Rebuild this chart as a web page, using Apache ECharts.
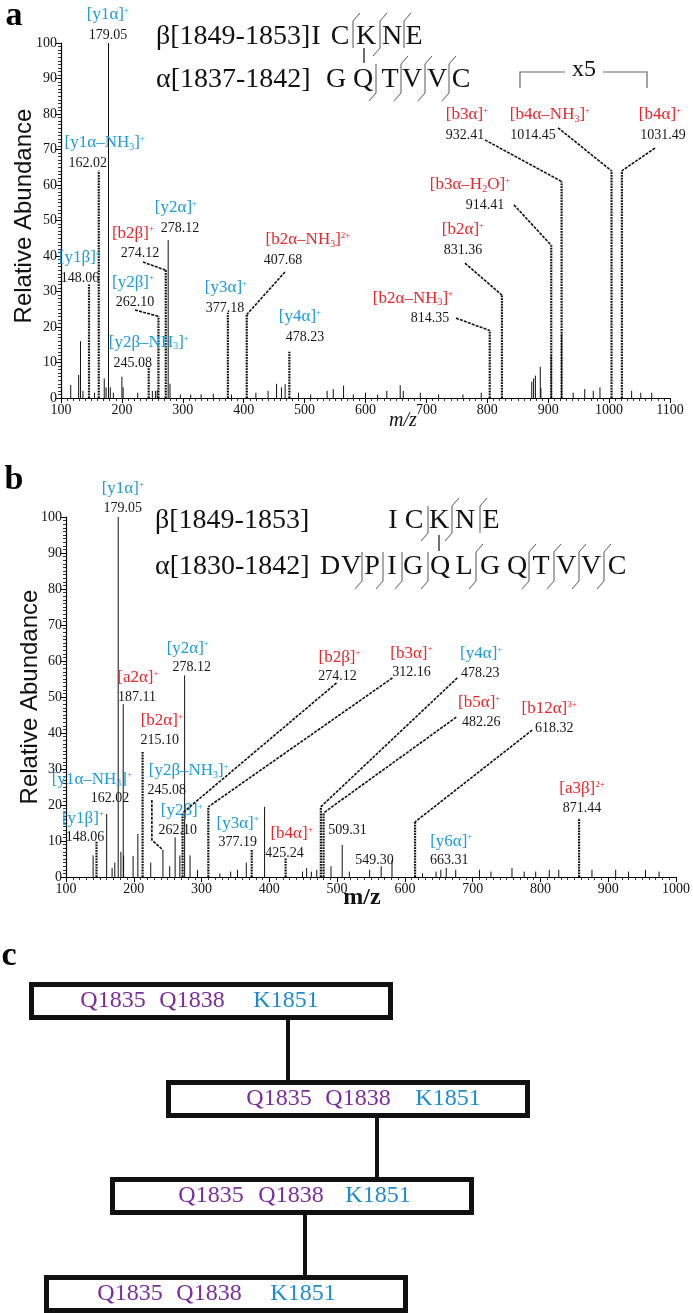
<!DOCTYPE html>
<html><head><meta charset="utf-8">
<script src="https://cdn.jsdelivr.net/npm/echarts@6/dist/echarts.min.js"></script>
<style>html,body{margin:0;padding:0;background:#fff}#c{width:693px;height:1313px}</style>
</head><body><div id="c"></div>
<script>
// ================= DATA =================
// axis ticks
const xTicksA = [100,200,300,400,500,600,700,800,900,1000,1100];
const xTicksB = [100,200,300,400,500,600,700,800,900,1000];
const yTicks  = [0,10,20,30,40,50,60,70,80,90,100];

// Panel a : annotated fragment peaks (m/z position as drawn, relative abundance)
const peakA_mz   = [146,162,178,244,260,272,276,374,405,475,804,824,905,922,1004,1021];
const peakA_int  = [32,64,100,9,23,36,44.5,24,23.5,13,19,29,43,61,64,64];
const peakA_ion  = ['[y1β]⁺','[y1α–NH₃]⁺','[y1α]⁺','[y2β–NH₃]⁺','[y2β]⁺','[b2β]⁺','[y2α]⁺','[y3α]⁺','[b2α–NH₃]²⁺','[y4α]⁺','[b2α–NH₃]⁺','[b2α]⁺','[b3α–H₂O]⁺','[b3α]⁺','[b4α–NH₃]⁺','[b4α]⁺'];
const peakA_text = ['148.06','162.02','179.05','245.08','262.10','274.12','278.12','377.18','407.68','478.23','814.35','831.36','914.41','932.41','1014.45','1031.49'];
// Panel a : other (unlabelled) peaks [m/z, abundance]
const noiseA = [[101,2.8],[116,3.7],[129,6.5],[132,16],[136,2],[155,1.5],[171,5.5],[174,3],[181,3],[186,1.5],[200,6],[202,3],[226,1.5],[250,2],[255,2],[258,2.2],[279,4],[296,1],[313,1],[330,1],[350,1.2],[380,1],[420,1.5],[440,2],[454,4],[462,3],[468,3.9],[490,1.5],[510,1],[537,2],[547,2.5],[564,3.5],[580,1],[600,1.5],[620,1],[635,2],[657,3.6],[662,2],[690,1.5],[720,1],[760,1],[790,1.5],[873,4.6],[876,5.5],[879,6.3],[887,8.8],[888,2.8],[905,12],[922,18],[941,1.5],[960,2.5],[974,2],[985,3],[1037,2],[1052,1.5],[1070,1.5]];

// Panel b : annotated peaks
const peakB_mz   = [145,160,177,184.4,213,243,261,272,275,310,374,424,476,480,507.5,548,615,661,857];
const peakB_int  = [9.8,17.5,100,48,35,7.5,11,17.8,56,19.5,7.5,5.4,19.5,17.8,8.9,2,15.3,2.5,16.4];
const peakB_ion  = ['[y1β]⁺','[y1α–NH₃]⁺','[y1α]⁺','[a2α]⁺','[b2α]⁺','[y2β–NH₃]⁺','[y2β]⁺','[b2β]⁺','[y2α]⁺','[b3α]⁺','[y3α]⁺','[b4α]⁺','[y4α]⁺','[b5α]⁺','','','[b12α]³⁺','[y6α]⁺','[a3β]²⁺'];
const peakB_text = ['148.06','162.02','179.05','187.11','215.10','245.08','262.10','274.12','278.12','312.16','377.19','425.24','478.23','482.26','509.31','549.30','618.32','663.31','871.44'];
const noiseB = [[140,6],[168,2.5],[172,4],[181,7],[185,6],[199,5.8],[206,12],[225,4],[253,3],[268,6],[283,6],[294,2],[327,1],[343,1.5],[353,2],[366,4],[393,19.5],[449,1.5],[455,2.5],[462,1.5],[470,2],[491,3],[518,1.5],[565,3],[581,4.7],[626,1],[646,1.5],[653,2],[675,2],[710,2],[727,1.5],[758,2.5],[776,1.5],[793,1.5],[813,2],[827,2],[876,2],[911,2],[930,1.5],[955,2],[975,1.5]];

// Peptide sequences
const seqA_beta = {prefix:'β[1849-1853]', letters:['I','C','K','N','E']};
const seqA_alpha= {prefix:'α[1837-1842]', letters:['G','Q','T','V','V','C']};
const seqB_beta = {prefix:'β[1849-1853]', letters:['I','C','K','N','E']};
const seqB_alpha= {prefix:'α[1830-1842]', letters:['D','V','P','I','G','Q','L','G','Q','T','V','V','C']};
// Panel c residues
const residues = ['Q1835','Q1838','K1851'];

// ================= LAYOUT (label placement, not data) =================
const dashedA = [1,1,0,1,1,1,0,1,1,1,1,1,1,1,1,1];
const layoutA = [
 {num:[131,33.8],dx:0},
 {num:[144,66.2],dx:17},
 {num:[177,102.3],dx:0},
 {num:[218,9.9],dx:16},
 {num:[221.5,27.0],dx:-2,lead:[221.5,24.8]},
 {num:[229.7,40.8],dx:-7,lead:[234.6,38.3]},
 {num:[295.4,47.9],dx:-4},
 {num:[369.3,25.4],dx:1},
 {num:[464.5,38.9],dx:25,lead:[467.8,35.5]},
 {num:[500.7,17.2],dx:-5},
 {num:[705.9,22.5],dx:-17,lead:[748.6,22.5]},
 {num:[760.1,41.7],dx:0,lead:[763.4,38.0]},
 {num:[796.2,54.4],dx:-15,lead:[843.8,54.4]},
 {num:[763.4,74.1],dx:2,lead:[796.2,72.7]},
 {num:[875,74.1],dx:17,lead:[916.1,76.1]},
 {num:[1088.5,74.1],dx:-3,lead:[1075.4,70.4]}
];
const dashedB = [1,0,0,0,1,0,0,1,0,1,1,1,1,1,0,0,1,0,1];
const layoutB = [
 {num:[128,11.1],dx:-2},
 {num:[164.8,21.9],dx:-18},
 {num:[183.9,102.5],dx:0},
 {num:[204.6,50],dx:1},
 {num:[238.4,38.1],dx:2},
 {num:[248.7,24.2],dx:22,lead:[226.7,21.4],elbow:[226.7,10.3]},
 {num:[265,13.1],dx:4},
 {num:[500.6,55.8],dx:2,lead:[499.1,53.9]},
 {num:[285.6,58.3],dx:-4},
 {num:[609.6,56.9],dx:0,lead:[581.6,55.3]},
 {num:[353.3,9.7],dx:0},
 {num:[422.5,6.7],dx:7},
 {num:[711.2,56.7],dx:1,lead:[677.3,55.3]},
 {num:[712.7,43.1],dx:-2,lead:[675.8,44.4]},
 {num:[515.3,13.1],dx:0},
 {num:[555.1,4.7],dx:0},
 {num:[820.2,41.4],dx:-5,lead:[787.8,40.8]},
 {num:[665.5,4.7],dx:2},
 {num:[861.4,19.2],dx:0}
];

const BLUE='#1e9ad8', RED='#e8262b', PURPLE='#7b2c9e', CBLUE='#1c8ccf';
const SERIF='"Liberation Serif","Times New Roman",serif';
const SANS='"Liberation Sans",Arial,sans-serif';

// ================= helpers =================
const SUP={'⁺':'+','⁰':'0','¹':'1','²':'2','³':'3','⁴':'4'};
const SUB={'₀':'0','₁':'1','₂':'2','₃':'3','₄':'4'};
function toRich(s){
  let out='',cur='',type='n';
  for(const ch of s){
    let t='n',c=ch;
    if(SUP[ch]){t='sup';c=SUP[ch];} else if(SUB[ch]){t='sub';c=SUB[ch];}
    if(t!==type && cur){out+='{'+type+'|'+cur+'}';cur='';}
    type=t;cur+=c;
  }
  if(cur) out+='{'+type+'|'+cur+'}';
  return out;
}
function richStyles(color){
  return {
    n:{fontSize:17,fontFamily:SERIF,fill:color,lineHeight:18,verticalAlign:'middle'},
    sup:{fontSize:9,fontFamily:SERIF,fill:color,lineHeight:18,verticalAlign:'top'},
    sub:{fontSize:10,fontFamily:SERIF,fill:color,lineHeight:18,verticalAlign:'bottom'}
  };
}
function peakData(noise, mz, inten, dashed){
  const d = noise.map(p=>[p[0],p[1],0]);
  for(let i=0;i<mz.length;i++) d.push([mz[i],inten[i],dashed[i]]);
  return d;
}
function peakRender(params, api){
  const x=api.value(0), y=api.value(1), dsh=api.value(2);
  const p0=api.coord([x,0]), p1=api.coord([x,y]);
  return {type:'line',shape:{x1:p0[0],y1:p0[1],x2:p1[0],y2:p1[1]},
    style:{stroke:'#111',lineWidth:dsh?2.2:1,lineDash:dsh?[1.8,1]:null}};
}
function annRender(ions,texts,mz,inten,layout,gap){
  return function(params, api){
    const i=params.dataIndex, L=layout[i];
    const num=api.coord(L.num);
    const ch=[];
    ch.push({type:'text',x:num[0],y:num[1],style:{text:texts[i],fill:'#161616',font:'14px '+SERIF,
      align:'center',verticalAlign:'middle',textAlign:'center',textVerticalAlign:'middle'}});
    if(ions[i]){
      const col = ions[i].startsWith('[y') ? BLUE : RED;
      ch.push({type:'text',x:num[0]+L.dx,y:num[1]-gap,style:{text:toRich(ions[i]),rich:richStyles(col),fill:col,
        font:'17px '+SERIF,align:'center',verticalAlign:'middle',textAlign:'center',textVerticalAlign:'middle'}});
    }
    if(L.lead){
      const pts=[api.coord(L.lead)];
      if(L.elbow) pts.push(api.coord(L.elbow));
      pts.push(api.coord([mz[i],inten[i]]));
      ch.push({type:'polyline',shape:{points:pts},style:{stroke:'#111',lineWidth:1.6,lineDash:[3,1.2],fill:null}});
    }
    return {type:'group',children:ch};
  };
}
function xAxisCfg(grid,ticks){
  return {gridIndex:grid,type:'value',min:ticks[0],max:ticks[ticks.length-1],interval:ticks[1]-ticks[0],
    axisLine:{onZero:false,lineStyle:{color:'#000',width:1.2}},
    axisTick:{length:5,lineStyle:{color:'#000',width:1}},
    minorTick:{show:true,splitNumber:10,length:3,lineStyle:{color:'#000',width:0.8}},
    splitLine:{show:false},
    axisLabel:{color:'#111',fontFamily:SERIF,fontSize:14,margin:5,formatter:v=>String(v)}};
}
function yAxisCfg(grid){
  return {gridIndex:grid,type:'value',min:yTicks[0],max:yTicks[yTicks.length-1],interval:yTicks[1]-yTicks[0],
    axisLine:{show:true,lineStyle:{color:'#000',width:1.2}},
    axisTick:{show:true,length:5,lineStyle:{color:'#000',width:1}},
    minorTick:{show:true,splitNumber:10,length:3,lineStyle:{color:'#000',width:0.8}},
    splitLine:{show:false},
    axisLabel:{color:'#111',fontFamily:SERIF,fontSize:14,margin:4}};
}

// ================= graphic (sequence diagrams, panel c) =================
const G=[];
function txt(x,y,text,font,fill,extra){
  G.push(Object.assign({type:'text',x:x,y:y,silent:true,style:{text:text,font:font,fill:fill||'#111',
    align:'center',verticalAlign:'middle',textAlign:'center',textVerticalAlign:'middle'}},extra||{}));
}
function ltxt(x,y,text,font,fill){
  G.push({type:'text',x:x,y:y,silent:true,style:{text:text,font:font,fill:fill||'#111',
    align:'left',verticalAlign:'middle',textAlign:'left',textVerticalAlign:'middle'}});
}
function line(x1,y1,x2,y2,w,col){
  G.push({type:'line',silent:true,shape:{x1:x1,y1:y1,x2:x2,y2:y2},style:{stroke:col||'#111',lineWidth:w||1}});
}
function mark(x,yT,yB,top,bot){
  line(x,yT,x,yB,0.9,'#444');
  if(top) line(x,yT,x+7,yT-8,0.9,'#444');
  if(bot) line(x,yB,x-7,yB+8,0.9,'#444');
}
const SEQF='28px '+SERIF;
// panel letters
txt(14,16,'a','bold 34px '+SERIF,'#000');
txt(14,480,'b','bold 34px '+SERIF,'#000');
txt(9,956,'c','bold 34px '+SERIF,'#000');
// panel a sequences
ltxt(156,37,seqA_beta.prefix,SEQF);
[316,340,366,392,414].forEach((x,i)=>txt(x,37,seqA_beta.letters[i],SEQF));
mark(353,21,48,1,0); mark(380,21,48,1,1); mark(404,21,48,1,0);
ltxt(156,80,seqA_alpha.prefix,SEQF);
[336,363,390,412,437,461].forEach((x,i)=>txt(x,80,seqA_alpha.letters[i],SEQF));
mark(376,64,93,0,1); mark(401,64,93,1,1); mark(425,64,93,1,1); mark(449,64,93,1,1);
line(364,48,364,63,1.3,'#222');
// x5 bracket
G.push({type:'polyline',silent:true,shape:{points:[[520,88],[520,72],[565,72]]},style:{stroke:'#666',lineWidth:1.2,fill:null}});
G.push({type:'polyline',silent:true,shape:{points:[[603,72],[647,72],[647,88]]},style:{stroke:'#666',lineWidth:1.2,fill:null}});
txt(584,70,'x5','24px '+SERIF,'#111');
// panel b sequences
ltxt(155,521,seqB_beta.prefix,SEQF);
[393,414,439,465,491].forEach((x,i)=>txt(x,521,seqB_beta.letters[i],SEQF));
mark(428,506,533,0,1); mark(452,506,533,1,1); mark(480,506,533,1,0);
ltxt(155,567,seqB_alpha.prefix,SEQF);
[330,351,372,392,413,440,464,490,517,541,566,591,617].forEach((x,i)=>txt(x,567,seqB_alpha.letters[i],SEQF));
[362,383,402,428].forEach(x=>mark(x,552,581,0,1));
[476,529,554,579,604].forEach(x=>mark(x,552,581,1,1));
line(439,535,439,551,1.3,'#222');
// axis names
txt(24,216,'Relative Abundance','24px '+SANS,'#111',{rotation:Math.PI/2});
txt(30,697,'Relative Abundance','24px '+SANS,'#111',{rotation:Math.PI/2});
txt(403,421,'m/z','italic 20px '+SERIF,'#111');
txt(362,898,'m/z','bold 24px '+SERIF,'#111');
// panel c boxes
const boxes=[{x:29,y:982,cx:[113,192,286],lx:288},{x:166,y:1080,cx:[279,358,448],lx:377},{x:110,y:1177,cx:[211,291,378],lx:305},{x:44,y:1275,cx:[130,209,303]}];
boxes.forEach((b,k)=>{
  G.push({type:'rect',silent:true,shape:{x:b.x+2.5,y:b.y+2.5,width:359,height:33},style:{stroke:'#111',lineWidth:5,fill:'#fff'}});
  residues.forEach((r,i)=>txt(b.cx[i],b.y+19,r,'24px '+SERIF,r[0]==='K'?CBLUE:PURPLE));
  if(k<boxes.length-1) line(b.lx,b.y+38,b.lx,boxes[k+1].y,4,'#111');
});

// ================= chart =================
const chart=echarts.init(document.getElementById('c'),null,{renderer:'canvas',width:693,height:1313});
chart.setOption({
  animation:false,
  backgroundColor:'#fff',
  grid:[{left:61,top:43,width:609,height:355},{left:66,top:517,width:612,height:360}],
  xAxis:[xAxisCfg(0,xTicksA),xAxisCfg(1,xTicksB)],
  yAxis:[yAxisCfg(0),yAxisCfg(1)],
  series:[
    {type:'custom',xAxisIndex:0,yAxisIndex:0,clip:false,data:peakData(noiseA,peakA_mz,peakA_int,dashedA),renderItem:peakRender,silent:true},
    {type:'custom',xAxisIndex:0,yAxisIndex:0,clip:false,data:peakA_mz.map((m,i)=>[m,peakA_int[i]]),
      renderItem:annRender(peakA_ion,peakA_text,peakA_mz,peakA_int,layoutA,20),silent:true},
    {type:'custom',xAxisIndex:1,yAxisIndex:1,clip:false,data:peakData(noiseB,peakB_mz,peakB_int,dashedB),renderItem:peakRender,silent:true},
    {type:'custom',xAxisIndex:1,yAxisIndex:1,clip:false,data:peakB_mz.map((m,i)=>[m,peakB_int[i]]),
      renderItem:annRender(peakB_ion,peakB_text,peakB_mz,peakB_int,layoutB,19),silent:true}
  ],
  graphic:G
});
</script></body></html>
